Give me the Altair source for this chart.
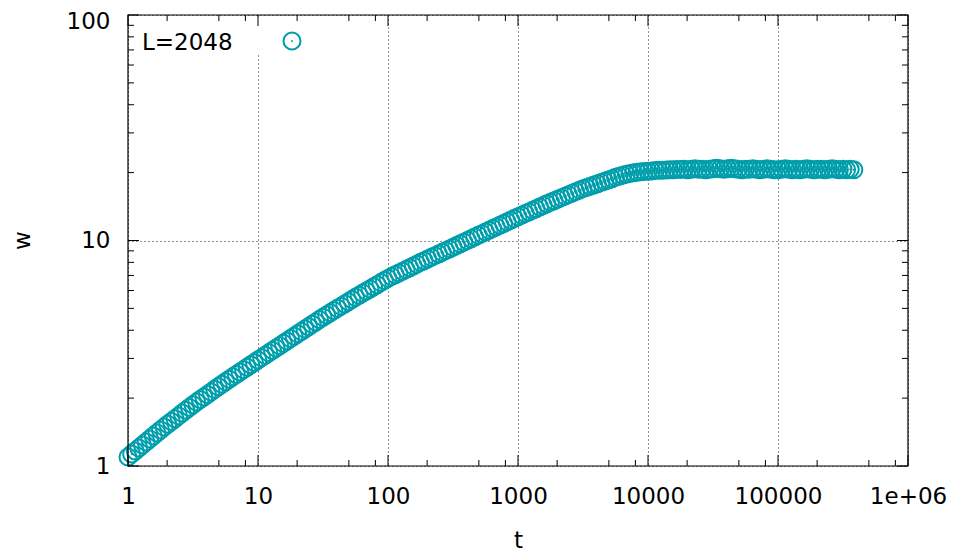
import altair as alt
import pandas as pd

# ---------------- data ----------------
series_name = "L=2048"

t = [1.0000, 1.0661, 1.1365, 1.2115, 1.2915, 1.3768, 1.4678, 1.5647, 1.6681, 1.7783, 1.8957, 2.0209,
     2.1544, 2.2967, 2.4484, 2.6101, 2.7826, 2.9663, 3.1623, 3.3711, 3.5938, 3.8312, 4.0842, 4.3539,
     4.6416, 4.9482, 5.2749, 5.6234, 5.9948, 6.3908, 6.8129, 7.2629, 7.7426, 8.2540, 8.7992, 9.3804,
     10.000, 10.661, 11.365, 12.115, 12.915, 13.768, 14.678, 15.647, 16.681, 17.783, 18.957, 20.209,
     21.544, 22.967, 24.484, 26.101, 27.826, 29.663, 31.623, 33.711, 35.938, 38.312, 40.842, 43.539,
     46.416, 49.482, 52.749, 56.234, 59.948, 63.908, 68.129, 72.629, 77.426, 82.540, 87.992, 93.804,
     100.00, 106.61, 113.65, 121.15, 129.15, 137.68, 146.78, 156.47, 166.81, 177.83, 189.57, 202.09,
     215.44, 229.67, 244.84, 261.01, 278.26, 296.63, 316.23, 337.11, 359.38, 383.12, 408.42, 435.39,
     464.16, 494.82, 527.49, 562.34, 599.48, 639.08, 681.29, 726.29, 774.26, 825.40, 879.92, 938.04,
     1000.0, 1066.1, 1136.5, 1211.5, 1291.5, 1376.8, 1467.8, 1564.7, 1668.1, 1778.3, 1895.7, 2020.9,
     2154.4, 2296.7, 2448.4, 2610.1, 2782.6, 2966.3, 3162.3, 3371.1, 3593.8, 3831.2, 4084.2, 4353.9,
     4641.6, 4948.2, 5274.9, 5623.4, 5994.8, 6390.8, 6812.9, 7262.9, 7742.6, 8254.0, 8799.2, 9380.4,
     10000, 10661, 11365, 12115, 12915, 13768, 14678, 15647, 16681, 17783, 18957, 20209,
     21544, 22967, 24484, 26101, 27826, 29663, 31623, 33711, 35938, 38312, 40842, 43539,
     46416, 49482, 52749, 56234, 59948, 63908, 68129, 72629, 77426, 82540, 87992, 93804,
     100000, 106610, 113650, 121150, 129150, 137680, 146780, 156470, 166810, 177830, 189570, 202090,
     215440, 229670, 244840, 261010, 278260, 296630, 316230, 337110, 359380, 383120]

w = [1.0965, 1.1307, 1.1659, 1.2023, 1.2397, 1.2784, 1.3183, 1.3594, 1.4018, 1.4454,
     1.4873, 1.5307, 1.5751, 1.6211, 1.6680, 1.7167, 1.7664, 1.8180, 1.8707,
     1.9200, 1.9711, 2.0230, 2.0764, 2.1316, 2.1878, 2.2454, 2.3051, 2.3659,
     2.4249, 2.4848, 2.5468, 2.6103, 2.6748, 2.7416, 2.8099, 2.8793, 2.9512,
     3.0241, 3.0981, 3.1746, 3.2523, 3.3327, 3.4142, 3.4985, 3.5841, 3.6728,
     3.7635, 3.8556, 3.9508, 4.0476, 4.1476, 4.2491, 4.3541, 4.4607, 4.5709,
     4.6755, 4.7822, 4.8902, 5.0018, 5.1160, 5.2327, 5.3509, 5.4730, 5.5976,
     5.7190, 5.8441, 5.9704, 6.0997, 6.2331, 6.3680, 6.5058, 6.6482, 6.7920,
     6.9167, 7.0437, 7.1730, 7.3047, 7.4371, 7.5737, 7.7127, 7.8543, 7.9983,
     8.1355, 8.2772, 8.4195, 8.5661, 8.7134, 8.8652, 9.0175, 9.1746, 9.3325,
     9.4967, 9.6621, 9.8326, 10.005, 10.181, 10.359, 10.541, 10.725, 10.914,
     11.102, 11.296, 11.490, 11.690, 11.891, 12.098, 12.306, 12.521, 12.735,
     12.948, 13.165, 13.388, 13.612, 13.839, 14.071, 14.309, 14.548, 14.791,
     15.018, 15.248, 15.488, 15.730, 15.971, 16.218, 16.471, 16.724, 16.982,
     17.190, 17.412, 17.637, 17.862, 18.094, 18.325, 18.562, 18.799, 19.055,
     19.275, 19.476, 19.656, 19.815, 19.953, 20.068, 20.160, 20.230, 20.277,
     20.35, 20.42, 20.47, 20.51, 20.56, 20.58, 20.61, 20.63, 20.65,
     20.7, 20.6, 20.7, 20.8, 20.7, 20.7, 20.6, 20.7, 20.8, 20.9, 20.8, 20.7,
     20.8, 20.9, 20.8, 20.7, 20.6, 20.7, 20.7, 20.8, 20.7, 20.6, 20.7, 20.8,
     20.7, 20.6, 20.6, 20.7, 20.8, 20.7, 20.6, 20.7, 20.6, 20.7, 20.8, 20.7,
     20.6, 20.7, 20.7, 20.6, 20.7, 20.8, 20.7, 20.6, 20.7, 20.6, 20.7, 20.6]

x_major = [1, 10, 100, 1000, 10000, 100000, 1000000]
x_labels = ["1", "10", "100", "1000", "10000", "100000", "1e+06"]
x_minor = [2, 5, 8, 20, 50, 80, 200, 500, 800, 2000, 5000, 8000,
           20000, 50000, 80000, 200000, 500000, 800000]
y_major = [1, 10, 100]
y_labels = ["1", "10", "100"]
y_minor = [2, 3, 4, 5, 6, 7, 8, 9, 20, 30, 40, 50, 60, 70, 80, 90]

# ---------------- style ----------------
W, H = 780, 451
COLOR = "#009eab"
FONT = "DejaVu Sans"
FS = 23
MAJ, MIN = 11, 6
RING = 289
GRID = "#222222"

n = min(len(t), len(w))
df = pd.DataFrame({"t": t[:n], "w": w[:n], "series": [series_name] * n})

xscale = alt.Scale(type="log", domain=[1, 1000000], nice=False)
yscale = alt.Scale(type="log", domain=[1, 100], nice=False)


def label_expr(vals, labels):
    expr = "''"
    for v, lab in zip(vals, labels):
        expr = f"(abs(datum.value - {v}) < {v}*1e-6) ? '{lab}' : ({expr})"
    return expr


x_axis = alt.Axis(values=x_major, labelExpr=label_expr(x_major, x_labels),
                  ticks=False, domain=False, grid=True, gridColor=GRID,
                  gridDash=[1, 3], gridWidth=1, labelFont=FONT, labelFontSize=FS,
                  labelColor="black", labelPadding=19, labelFlush=False,
                  labelOverlap=False, title="t", titleFont=FONT, titleFontSize=FS,
                  titleFontWeight="normal", titleColor="black", titleY=81,
                  titleBaseline="alphabetic")
y_axis = alt.Axis(values=y_major, labelExpr=label_expr(y_major, y_labels),
                  ticks=False, domain=False, grid=True, gridColor=GRID,
                  gridDash=[1, 3], gridWidth=1, labelFont=FONT, labelFontSize=FS,
                  labelColor="black", labelPadding=18, labelOverlap=False,
                  labelOffset={"condition": {"test": f"datum.value >= {y_major[-1]}", "value": 6},
                               "value": 0},
                  title="w", titleFont=FONT, titleFontSize=FS, titleFontWeight="normal",
                  titleColor="black", titleAngle=270, titleX=-99, titleY=225,
                  titleBaseline="alphabetic")

one = pd.DataFrame({"label": [series_name]})

keybox = alt.Chart(one).mark_rect(fill="white", strokeWidth=0).encode(
    x=alt.value(3), x2=alt.value(182), y=alt.value(2), y2=alt.value(40))

rings = alt.Chart(df).mark_point(shape="circle", filled=False, size=RING,
                                 strokeWidth=2, color=COLOR, opacity=1).encode(
    x=alt.X("t:Q", scale=xscale, axis=x_axis),
    y=alt.Y("w:Q", scale=yscale, axis=y_axis))

dots = alt.Chart(df).mark_point(shape="circle", filled=True, size=4,
                                color=COLOR, opacity=1).encode(
    x=alt.X("t:Q", scale=xscale, axis=None),
    y=alt.Y("w:Q", scale=yscale, axis=None))


def xticks(vals, length, top):
    d = pd.DataFrame({"v": vals})
    y0, y1 = (0, length) if top else (H, H - length)
    return alt.Chart(d).mark_rule(color="black", strokeWidth=1).encode(
        x=alt.X("v:Q", scale=xscale, axis=None), y=alt.value(y0), y2=alt.value(y1))


def yticks(vals, length, right):
    d = pd.DataFrame({"v": vals})
    x0, x1 = (W, W - length) if right else (0, length)
    return alt.Chart(d).mark_rule(color="black", strokeWidth=1).encode(
        y=alt.Y("v:Q", scale=yscale, axis=None), x=alt.value(x0), x2=alt.value(x1))


ticks = [xticks(x_major, MAJ, False), xticks(x_major, MAJ, True),
         xticks(x_minor, MIN, False), xticks(x_minor, MIN, True),
         yticks(y_major, MAJ, False), yticks(y_major, MAJ, True),
         yticks(y_minor, MIN, False), yticks(y_minor, MIN, True)]

border = alt.Chart(one).mark_rect(filled=False, stroke="black", strokeWidth=1.2).encode(
    x=alt.value(0), x2=alt.value(W), y=alt.value(0), y2=alt.value(H))

key_text = alt.Chart(one).mark_text(align="left", baseline="alphabetic", font=FONT,
                                    fontSize=FS, color="black").encode(
    text="label:N", x=alt.value(14), y=alt.value(35))
key_ring = alt.Chart(one).mark_point(shape="circle", filled=False, size=RING,
                                     strokeWidth=2, color=COLOR, opacity=1).encode(
    x=alt.value(164), y=alt.value(26))
key_dot = alt.Chart(one).mark_point(shape="circle", filled=True, size=4,
                                    color=COLOR, opacity=1).encode(
    x=alt.value(164), y=alt.value(26))

chart = alt.layer(keybox, rings, dots, *ticks, border, key_text, key_ring, key_dot).resolve_axis(
    x="independent", y="independent"
).properties(
    width=W, height=H,
    padding={"left": 120, "top": 7, "right": 45, "bottom": 85},
    autosize=alt.AutoSizeParams(type="none"),
).configure_view(stroke=None)

chart.save("out.html", embed_options={"renderer": "svg", "actions": False})
